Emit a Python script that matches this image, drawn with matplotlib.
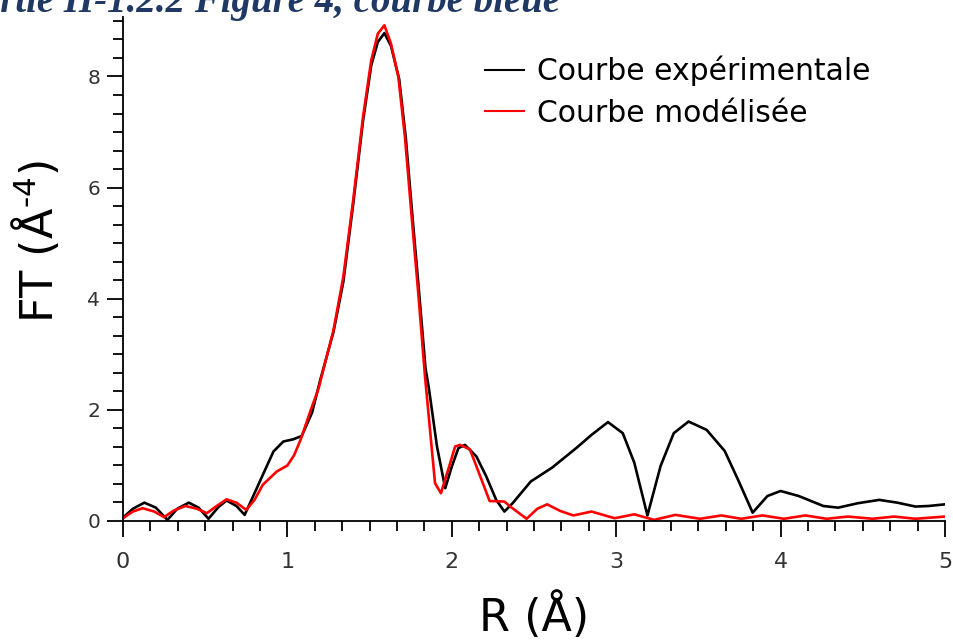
import matplotlib
matplotlib.use("Agg")
import matplotlib.pyplot as plt
from matplotlib.ticker import MultipleLocator

plt.rcParams['font.family'] = ['DejaVu Sans']
plt.rcParams['mathtext.fontset'] = 'dejavusans'

# experimental curve (black)
r_exp = [0, 0.06, 0.13, 0.2, 0.27, 0.33, 0.40, 0.46, 0.52, 0.58, 0.63, 0.69, 0.74,
         0.80, 0.855, 0.915, 0.975, 1.035, 1.087, 1.15, 1.2, 1.28, 1.34, 1.40, 1.46,
         1.51, 1.55, 1.59, 1.63, 1.68, 1.72, 1.76, 1.80, 1.84, 1.86, 1.91, 1.96, 2.0,
         2.04, 2.08, 2.15, 2.21, 2.27, 2.32, 2.37, 2.48, 2.61, 2.76, 2.85, 2.95, 3.04,
         3.11, 3.19, 3.27, 3.35, 3.44, 3.55, 3.66, 3.74, 3.83, 3.92, 4.0, 4.11, 4.26,
         4.35, 4.47, 4.6, 4.71, 4.82, 4.9, 5.0]
ft_exp = [0.06, 0.22, 0.33, 0.24, 0.02, 0.22, 0.33, 0.24, 0.04, 0.25, 0.37, 0.27, 0.11,
          0.50, 0.86, 1.25, 1.43, 1.47, 1.53, 1.95, 2.54, 3.40, 4.30, 5.70, 7.20,
          8.20, 8.62, 8.78, 8.55, 7.95, 6.90, 5.50, 4.15, 2.75, 2.40, 1.34, 0.59, 0.98,
          1.31, 1.37, 1.16, 0.80, 0.38, 0.17, 0.32, 0.71, 0.96, 1.32, 1.55, 1.78, 1.58,
          1.05, 0.10, 0.99, 1.58, 1.79, 1.64, 1.26, 0.75, 0.15, 0.45, 0.54, 0.45, 0.27,
          0.24, 0.32, 0.38, 0.33, 0.26, 0.27, 0.30]

# modelled curve (red)
r_mod = [0, 0.06, 0.12, 0.19, 0.25, 0.31, 0.38, 0.45, 0.51, 0.57, 0.63, 0.69, 0.75,
         0.80, 0.85, 0.935, 1.0, 1.04, 1.08, 1.14, 1.19, 1.28, 1.34, 1.40, 1.46, 1.51,
         1.55, 1.59, 1.63, 1.675, 1.715, 1.756, 1.796, 1.837, 1.898, 1.934, 1.99, 2.02,
         2.05, 2.11, 2.18, 2.23, 2.32, 2.36, 2.455, 2.52, 2.58, 2.66, 2.74, 2.85, 2.99,
         3.11, 3.23, 3.36, 3.51, 3.64, 3.76, 3.89, 4.02, 4.15, 4.28, 4.41, 4.56, 4.69,
         4.82, 5.0]
ft_mod = [0.05, 0.17, 0.23, 0.17, 0.07, 0.19, 0.27, 0.22, 0.14, 0.27, 0.39, 0.33, 0.20,
          0.38, 0.65, 0.89, 1.0, 1.18, 1.46, 1.98, 2.39, 3.43, 4.39, 5.77, 7.27, 8.29,
          8.77, 8.92, 8.59, 7.99, 6.91, 5.47, 4.10, 2.60, 0.68, 0.50, 1.04, 1.34,
          1.37, 1.29, 0.75, 0.36, 0.35, 0.25, 0.04, 0.22, 0.30, 0.18, 0.10, 0.17, 0.05,
          0.12, 0.02, 0.11, 0.04, 0.10, 0.04, 0.10, 0.04, 0.10, 0.04, 0.08, 0.04, 0.08,
          0.04, 0.08]

fig = plt.figure(figsize=(9.54, 6.4), dpi=100)
ax = fig.add_axes([123/954, 1 - 521/640, 822/954, 504/640])

ax.plot(r_exp, ft_exp, color='black', lw=1.9, label='Courbe expérimentale')
ax.plot(r_mod, ft_mod, color='#ff0000', lw=1.9, label='Courbe modélisée')

ax.set_xlim(0, 5)
ax.set_ylim(0, 9.07)
ax.spines['top'].set_visible(False)
ax.spines['right'].set_visible(False)
for s in ('left', 'bottom'):
    ax.spines[s].set_linewidth(1.3)

ax.xaxis.set_major_locator(MultipleLocator(1))
ax.xaxis.set_minor_locator(MultipleLocator(1/6))
ax.yaxis.set_major_locator(MultipleLocator(2))
ax.yaxis.set_minor_locator(MultipleLocator(1/3))
ax.tick_params(which='major', length=11.5, width=1.3, labelcolor='#333333')
ax.tick_params(which='minor', length=7.5, width=1.3)
ax.tick_params(axis='x', which='major', labelsize=16, pad=11)
ax.tick_params(axis='y', which='major', labelsize=14.5, pad=5)

ax.set_xlabel('R (Å)', fontsize=32)
ax.set_ylabel('FT (Å$^{\\text{-4}}$)', fontsize=32)
ax.xaxis.set_label_coords(0.5, -0.141)
ax.yaxis.set_label_coords(-0.074, 0.555)

ax.legend(loc='upper left', bbox_to_anchor=(0.415, 0.965), frameon=False, fontsize=21.5,
          handlelength=1.3, handletextpad=0.43, labelspacing=0.42,
          borderaxespad=0.3)
for ln in ax.get_legend().get_lines():
    ln.set_linewidth(1.5)

fig.text(560/954, 1 - 12/640, 'Partie II-1.2.2 Figure 4, courbe bleue', ha='right',
         va='baseline', fontsize=28, color='#1f3864', family='Liberation Serif',
         style='italic', weight='bold')

fig.savefig('out.png', dpi=100)
